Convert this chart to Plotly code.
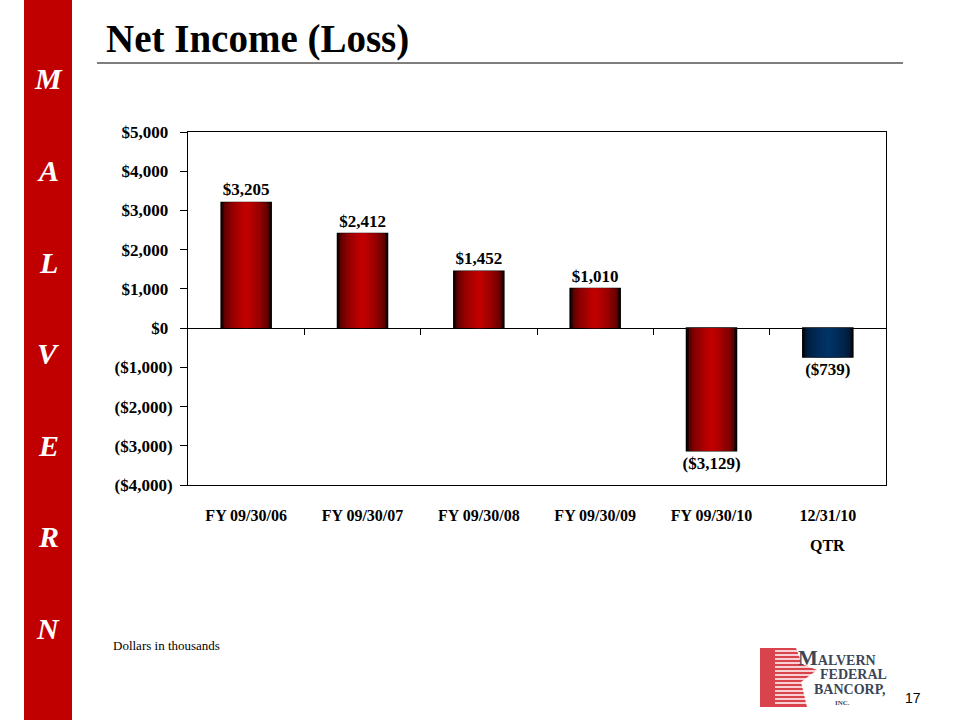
import plotly.graph_objects as go

# ---- data (dollars in thousands) ----
periods = ["FY 09/30/06", "FY 09/30/07", "FY 09/30/08", "FY 09/30/09", "FY 09/30/10", "12/31/10"]
net_income = [3205, 2412, 1452, 1010, -3129, -739]
value_labels = ["$3,205", "$2,412", "$1,452", "$1,010", "($3,129)", "($739)"]
y_ticks = [5000, 4000, 3000, 2000, 1000, 0, -1000, -2000, -3000, -4000]
y_tick_labels = ["$5,000 ", "$4,000 ", "$3,000 ", "$2,000 ", "$1,000 ", "$0 ",
                 "($1,000)", "($2,000)", "($3,000)", "($4,000)"]
sidebar_letters = ["M", "A", "L", "V", "E", "R", "N"]

# ---- styling ----
SERIF = "Liberation Serif"
W, H = 960, 720
L, R, T, B = 188, 886, 132, 485          # plot area in pixels
Y_MIN, Y_MAX = -4000, 5000
BAR_W = 0.43
bright = [(192, 0, 0)] * 5 + [(0, 51, 102)]
dark = [(40, 0, 0)] * 5 + [(0, 12, 30)]
LOGO = "#3C4657"


def px(x):
    return (x - L) / (R - L)


def py(y):
    return (B - y) / (B - T)


def blend(c0, c1, t):
    return "rgb(%d,%d,%d)" % tuple(round(a + (b - a) * t) for a, b in zip(c0, c1))


xpos = list(range(len(periods)))

fig = go.Figure()

# fake the horizontal gradient with stacked overlaid bars, narrower = brighter
n_layers = 10
for k in range(n_layers):
    t = (k / (n_layers - 1)) ** 0.45
    outer = k == 0
    fig.add_trace(go.Bar(
        x=xpos,
        y=net_income,
        width=BAR_W * (1 - k / n_layers),
        marker=dict(
            color=[blend(d, b, t) for d, b in zip(dark, bright)],
            line=dict(color="black", width=1.5 if outer else 0),
        ),
        text=value_labels if outer else None,
        textposition="outside" if outer else "none",
        constraintext="none",
        textfont=dict(family=SERIF, size=17, color="black", weight="bold"),
        cliponaxis=False,
        hoverinfo="skip",
        showlegend=False,
    ))

# empty trace so the second x axis (ticks on the zero line) gets drawn
fig.add_trace(go.Scatter(x=xpos, y=net_income, xaxis="x2", mode="none",
                         hoverinfo="skip", showlegend=False))

zero_pos = (0 - Y_MIN) / (Y_MAX - Y_MIN)

fig.update_layout(
    width=W,
    height=H,
    margin=dict(l=L, r=W - R, t=T, b=H - B, pad=0),
    paper_bgcolor="white",
    plot_bgcolor="white",
    barmode="overlay",
    font=dict(family=SERIF, color="black"),
    xaxis=dict(
        range=[-0.5, len(periods) - 0.5],
        tickvals=xpos,
        ticktext=periods,
        ticks="",
        ticklabelstandoff=16,
        tickfont=dict(family=SERIF, size=16, weight="bold"),
        showline=True, linecolor="black", linewidth=1, mirror=True,
        showgrid=False, zeroline=False, fixedrange=True,
    ),
    xaxis2=dict(
        overlaying="x",
        anchor="free",
        position=zero_pos,
        side="bottom",
        range=[-0.5, len(periods) - 0.5],
        tickvals=[i + 0.5 for i in xpos[:-1]],
        ticks="outside", ticklen=6, tickcolor="black",
        showticklabels=False, showline=False, showgrid=False, zeroline=False,
    ),
    yaxis=dict(
        range=[Y_MIN, Y_MAX],
        tickvals=y_ticks,
        ticktext=y_tick_labels,
        ticks="outside", ticklen=7, tickcolor="black",
        ticklabelstandoff=4,
        tickfont=dict(family=SERIF, size=17, weight="bold"),
        showline=True, linecolor="black", linewidth=1, mirror=True,
        showgrid=False, zeroline=True, zerolinecolor="black", zerolinewidth=1,
    ),
)

shapes = [
    # red sidebar
    dict(type="rect", xref="paper", yref="paper", x0=px(24), x1=px(72), y0=py(H), y1=py(0),
         fillcolor="#C00000", line=dict(width=0), layer="below"),
    # rule under the title
    dict(type="line", xref="paper", yref="paper", x0=px(97), x1=px(903), y0=py(63), y1=py(63),
         line=dict(color="black", width=1)),
]

# logo: striped red star
star = [(760, 648), (796, 648), (802, 664), (817, 670), (801, 682), (807, 707), (760, 707)]
path = "M " + " L ".join("%f,%f" % (px(x), py(y)) for x, y in star) + " Z"
shapes.append(dict(type="path", xref="paper", yref="paper", path=path,
                   fillcolor="#D9434B", line=dict(width=0)))
for yy in range(651, 707, 4):
    shapes.append(dict(type="line", xref="paper", yref="paper",
                       x0=px(775), x1=px(820), y0=py(yy), y1=py(yy),
                       line=dict(color="white", width=1.4)))

annotations = [
    dict(text="Net Income (Loss)", x=px(105), y=py(39), xanchor="left", yanchor="middle",
         font=dict(family=SERIF, size=39, weight="bold")),
    dict(text="QTR", x=len(periods) - 1, xref="x", y=py(545), xanchor="center", yanchor="middle",
         font=dict(family=SERIF, size=16, weight="bold")),
    dict(text="Dollars in thousands", x=px(112), y=py(645), xanchor="left", yanchor="middle",
         font=dict(family=SERIF, size=13)),
    dict(text="17", x=px(913), y=py(698), xanchor="center", yanchor="middle",
         font=dict(family="Liberation Sans", size=14)),
    dict(text="<span style='font-size:21px'>M</span>ALVERN", x=px(797), y=py(658),
         xanchor="left", yanchor="middle", font=dict(family=SERIF, size=14, color=LOGO, weight="bold")),
    dict(text="FEDERAL", x=px(888), y=py(674), xanchor="right", yanchor="middle",
         font=dict(family=SERIF, size=14, color=LOGO, weight="bold")),
    dict(text="BANCORP,", x=px(886), y=py(689), xanchor="right", yanchor="middle",
         font=dict(family=SERIF, size=14, color=LOGO, weight="bold")),
    dict(text="INC.", x=px(842), y=py(703), xanchor="center", yanchor="middle",
         font=dict(family=SERIF, size=7, color=LOGO, weight="bold")),
]
for i, letter in enumerate(sidebar_letters):
    annotations.append(dict(
        text=letter, x=px(48), y=py(79 + i * 91.5), xanchor="center", yanchor="middle",
        font=dict(family=SERIF, size=30, color="white", weight="bold", style="italic"),
    ))
for a in annotations:
    a.setdefault("xref", "paper")
    a.setdefault("yref", "paper")
    a.setdefault("borderpad", 0)
    a["showarrow"] = False

fig.update_layout(shapes=shapes, annotations=annotations)

# the page body has a default 8px margin; drop it so the slide sits at 0,0
fig.write_html("out.html", config={"displayModeBar": False},
               post_script="document.body.style.margin='0';")
